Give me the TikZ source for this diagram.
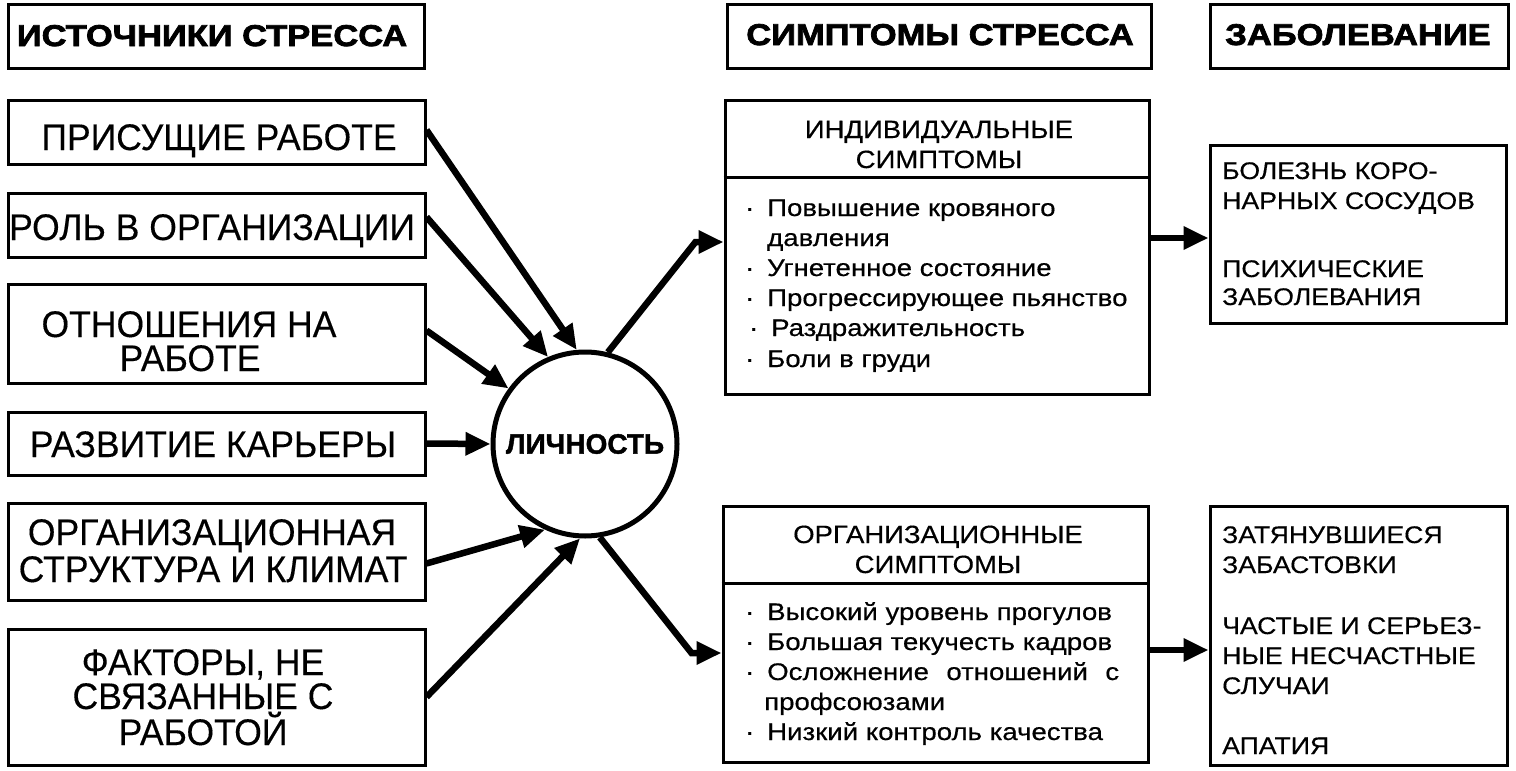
\documentclass[tikz,border=0pt]{standalone}
\usepackage{fontspec}
\setmainfont{Liberation Sans}
\newfontfamily\lff{Liberation Sans}[FakeStretch=0.96,FakeBold=0.3]
\newfontfamily\hdf{Liberation Sans}[FakeStretch=1.15,FakeBold=2.5]
\newfontfamily\cff{Liberation Sans}[FakeBold=1.5]
\newfontfamily\mhf{Liberation Sans}[FakeStretch=1.1,FakeBold=0.4]
\newfontfamily\mff{Liberation Sans}[FakeStretch=1.15,FakeBold=0.5]
\newfontfamily\rff{Liberation Sans}[FakeStretch=1.11,FakeBold=0.4]
\usetikzlibrary{arrows.meta}
\newcommand\mybul{\makebox[22pt][l]{·}}
\tikzset{
  box/.style={draw, line width=3pt, inner sep=0pt, rectangle},
  lt/.style={font=\lff\fontsize{37}{40}\selectfont, anchor=base, inner sep=0pt},
  ht/.style={font=\hdf\bfseries\fontsize{30}{36}\selectfont, anchor=base, inner sep=0pt},
  mh/.style={font=\mhf\fontsize{25}{28}\selectfont, anchor=base, inner sep=0pt},
  mt/.style={font=\mff\fontsize{24}{26}\selectfont, anchor=base west, inner sep=0pt},
  rt/.style={font=\rff\fontsize{24}{26}\selectfont, anchor=base west, inner sep=0pt},
  arr/.style={line width=6.5pt, -{Triangle[length=25pt,width=22pt]}},
}
\begin{document}
\begin{tikzpicture}[x=1pt,y=-1pt]
\useasboundingbox (0,0) rectangle (1516,771);
% headers
\node[box, minimum width=416pt, minimum height=64pt] (h1) at (216,36) {};
\node[box, minimum width=424pt, minimum height=64pt] (h2) at (939,36) {};
\node[box, minimum width=298pt, minimum height=64pt] (h3) at (1359,36) {};
\node[ht] (h1t) at (212,46) {ИСТОЧНИКИ СТРЕССА};
\node[ht] (h2t) at (940,45) {СИМПТОМЫ СТРЕССА};
\node[ht] (h3t) at (1358,45) {ЗАБОЛЕВАНИЕ};
% left boxes
\node[box, minimum width=417pt, minimum height=64pt] (b1) at (216.5,132) {};
\node[box, minimum width=417pt, minimum height=64pt] (b2) at (216.5,225) {};
\node[box, minimum width=417pt, minimum height=99pt] (b3) at (216.5,333.5) {};
\node[box, minimum width=417pt, minimum height=63pt] (b4) at (216.5,443.5) {};
\node[box, minimum width=417pt, minimum height=97pt] (b5) at (216.5,551.5) {};
\node[box, minimum width=417pt, minimum height=136pt] (b6) at (216.5,697) {};
\node[lt] (t1) at (219,150) {ПРИСУЩИЕ РАБОТЕ};
\node[lt] (t2) at (212,240) {РОЛЬ В ОРГАНИЗАЦИИ};
\node[lt] (t3a) at (189,337) {ОТНОШЕНИЯ НА};
\node[lt] (t3b) at (190,371) {РАБОТЕ};
\node[lt] (t4) at (213,457) {РАЗВИТИЕ КАРЬЕРЫ};
\node[lt] (t5a) at (212,545) {ОРГАНИЗАЦИОННАЯ};
\node[lt] (t5b) at (213,582) {СТРУКТУРА И КЛИМАТ};
\node[lt] (t6a) at (203,675) {ФАКТОРЫ, НЕ};
\node[lt] (t6b) at (203,709) {СВЯЗАННЫЕ С};
\node[lt] (t6c) at (203,745) {РАБОТОЙ};
% circle
\node[draw, circle, line width=5pt, minimum size=184pt, inner sep=0pt,
      font=\cff\bfseries\fontsize{28}{32}\selectfont] (c) at (585,444) {ЛИЧНОСТЬ};
% middle boxes
\node[box, minimum width=424pt, minimum height=294pt] (ind) at (937,247) {};
\draw[line width=3pt] ([yshift=-79pt]ind.north west) -- ([yshift=-79pt]ind.north east);
\node[box, minimum width=425pt, minimum height=256pt] (org) at (935.5,634) {};
\draw[line width=3pt] ([yshift=-79pt]org.north west) -- ([yshift=-79pt]org.north east);
\node[mh] (ih1) at (939,138) {ИНДИВИДУАЛЬНЫЕ};
\node[mh] (ih2) at (939,168) {СИМПТОМЫ};
\node[mt] (i1) at (745,216) {\mybul Повышение кровяного};
\node[mt] (i2) at (767,246) {давления};
\node[mt] (i3) at (745,276) {\mybul Угнетенное состояние};
\node[mt] (i4) at (745,306) {\mybul Прогрессирующее пьянство};
\node[mt] (i5) at (749,336) {\mybul Раздражительность};
\node[mt] (i6) at (745,367) {\mybul Боли в груди};
\node[mh] (oh1) at (938,543) {ОРГАНИЗАЦИОННЫЕ};
\node[mh] (oh2) at (938,573) {СИМПТОМЫ};
\node[mt] (o1) at (745,620) {\mybul Высокий уровень прогулов};
\node[mt] (o2) at (745,650) {\mybul Большая текучесть кадров};
\node[mt] (o3) at (745,680) {\mybul\makebox[352pt][s]{Осложнение\hfill отношений\hfill с}};
\node[mt] (o4) at (764,710) {профсоюзами};
\node[mt] (o5) at (745,740) {\mybul Низкий контроль качества};
% right boxes
\node[box, minimum width=296pt, minimum height=178pt] (r1) at (1358,234) {};
\node[box, minimum width=297pt, minimum height=259pt] (r2) at (1358.5,635.5) {};
\node[rt] (r1a) at (1222,179) {БОЛЕЗНЬ КОРО-};
\node[rt] (r1b) at (1222,209) {НАРНЫХ СОСУДОВ};
\node[rt] (r1c) at (1222,277) {ПСИХИЧЕСКИЕ};
\node[rt] (r1d) at (1222,305) {ЗАБОЛЕВАНИЯ};
\node[rt] (r2a) at (1222,543) {ЗАТЯНУВШИЕСЯ};
\node[rt] (r2b) at (1222,573) {ЗАБАСТОВКИ};
\node[rt] (r2c) at (1222,634) {ЧАСТЫЕ И СЕРЬЕЗ-};
\node[rt] (r2d) at (1222,664) {НЫЕ НЕСЧАСТНЫЕ};
\node[rt] (r2e) at (1222,694) {СЛУЧАИ};
\node[rt] (r2f) at (1222,754) {АПАТИЯ};
% arrows into circle
\draw[arr] ([yshift=2pt]b1.east) -- (c.95);
\draw[arr] ([yshift=8pt]b2.east) -- (c.113);
\draw[arr] ([yshift=3pt]b3.east) -- (c.144);
\draw[arr] (b4.east) -- (c.180);
\draw[arr] ([yshift=-12pt]b5.east) -- (c.245);
\draw[arr] (b6.east) -- (c.267);
% arrows out of circle
\draw[arr] (c.76) -- ([xshift=-28pt,yshift=5pt]ind.west) -- ([yshift=5pt]ind.west);
\draw[arr] (c.279) -- ([xshift=-30pt,yshift=-19pt]org.west) -- ([yshift=-19pt]org.west);
% middle to right
\draw[arr] ([yshift=9pt]ind.east) -- ([yshift=-4pt]r1.west);
\draw[arr] ([yshift=-16pt]org.east) -- ([yshift=-14.5pt]r2.west);
\end{tikzpicture}
\end{document}
